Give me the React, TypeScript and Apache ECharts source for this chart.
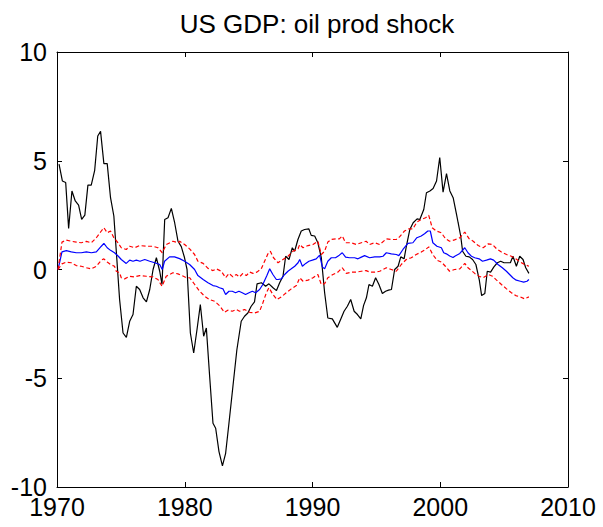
import React, { useEffect, useRef } from "react";
import * as echarts from "echarts";

// Black line (historical decomposition): years and values
const blackYears = [
  1970.16, 1970.42, 1970.68, 1970.91, 1971.17, 1971.43, 1971.69, 1971.93, 1972.18, 1972.42,
  1972.68, 1972.95, 1973.19, 1973.41, 1973.67, 1973.93, 1974.19, 1974.45, 1974.64, 1974.9,
  1975.17, 1975.43, 1975.69, 1975.95, 1976.21, 1976.47, 1976.74, 1977.0, 1977.26, 1977.52,
  1977.78, 1978.04, 1978.22, 1978.43, 1978.69, 1978.95, 1979.21, 1979.47, 1979.73, 1979.98,
  1980.18, 1980.44, 1980.7, 1980.96, 1981.22, 1981.48, 1981.69, 1981.95, 1982.21, 1982.42,
  1982.68, 1982.95, 1983.2, 1983.46, 1983.77, 1984.08, 1984.42, 1984.68, 1984.94, 1985.2,
  1985.46, 1985.66, 1986.0, 1986.17, 1986.33, 1986.59, 1986.91, 1987.18, 1987.43, 1987.69,
  1987.9, 1988.16, 1988.42, 1988.6, 1988.86, 1989.12, 1989.38, 1989.71, 1989.9, 1990.17,
  1990.42, 1990.69, 1990.95, 1991.2, 1991.55, 1991.94, 1992.2, 1992.47, 1992.73, 1992.99,
  1993.26, 1993.52, 1993.78, 1994.0, 1994.22, 1994.42, 1994.69, 1994.94, 1995.2, 1995.47,
  1995.72, 1995.95, 1996.18, 1996.43, 1996.7, 1996.91, 1997.17, 1997.35, 1997.62, 1997.88,
  1998.19, 1998.4, 1998.71, 1998.92, 1999.19, 1999.44, 1999.71, 1999.96, 2000.22, 2000.49,
  2000.75, 2001.01, 2001.27, 2001.4, 2001.6, 2001.75, 2002.01, 2002.27, 2002.53, 2002.79,
  2003.05, 2003.24, 2003.49, 2003.68, 2003.94, 2004.2, 2004.47, 2004.73, 2004.99, 2005.24,
  2005.49, 2005.69, 2005.96, 2006.22, 2006.48, 2006.69, 2006.94,
];
const blackValues = [
  4.84, 4.07, 4.0, 1.89, 3.61, 3.15, 2.96, 2.3, 2.5, 3.88,
  3.88, 4.56, 6.14, 6.35, 4.87, 4.87, 3.3, 2.46, 0.85, -1.38,
  -2.92, -3.12, -2.38, -2.07, -0.77, -0.92, -1.3, -1.49, -0.92, 0.0,
  0.54, -0.08, -0.69, 2.3, 2.38, 2.81, 2.15, 1.3, 1.05, 0.55,
  0.0, -2.92, -3.84, -2.76, -1.61, -3.07, -2.69, -4.92, -7.07, -7.3,
  -8.37, -9.03, -8.45, -7.07, -5.38, -3.69, -2.38, -2.15, -2.0, -1.69,
  -1.49, -0.66, -0.61, -0.69, -0.77, -0.66, -0.84, -0.97, -0.61, -0.31,
  0.61, 0.46, 1.0, 0.84, 1.38, 1.77, 1.84, 1.87, 1.57, 1.54,
  1.23, 0.54, -1.07, -2.23, -2.27, -2.66, -2.3, -1.92, -1.69, -1.38,
  -1.92, -2.07, -2.27, -1.65, -1.3, -0.69, -0.77, -0.38, -0.69, -1.1,
  -1.0, -0.95, -0.92, 0.0, 0.15, 0.58, 0.49, 1.07, 1.84, 2.15,
  2.33, 2.3, 2.76, 3.53, 3.61, 3.72, 4.07, 5.15, 3.56, 4.41,
  3.61, 3.3, 2.55, 2.15, 1.54, 0.84, 0.61, 0.58, 0.46, 0.23,
  -0.46, -1.2, -1.1, -0.08, -0.12, 0.12, 0.31, 0.38, 0.31, 0.31,
  0.31, 0.61, 0.15, 0.61, 0.46, 0.08, -0.18,
];

// Blue line (median)
const blueYears = [
  1970.08, 1970.39, 1970.73, 1971.12, 1971.51, 1971.9, 1972.3, 1972.69, 1973.08, 1973.47,
  1973.67, 1973.93, 1974.19, 1974.5, 1974.8, 1975.03, 1975.42, 1975.69, 1975.95, 1976.21,
  1976.5, 1976.87, 1977.26, 1977.65, 1978.04, 1978.24, 1978.42, 1978.81, 1979.2, 1979.6,
  1979.99, 1980.38, 1980.77, 1981.03, 1981.44, 1981.82, 1982.21, 1982.47, 1982.72, 1982.99,
  1983.2, 1983.46, 1983.72, 1983.98, 1984.24, 1984.5, 1984.76, 1985.03, 1985.29, 1985.55,
  1985.86, 1986.11, 1986.43, 1986.65, 1986.9, 1987.17, 1987.3, 1987.56, 1987.82, 1988.08,
  1988.34, 1988.61, 1988.87, 1989.0, 1989.21, 1989.47, 1989.72, 1989.99, 1990.29, 1990.56,
  1990.77, 1990.95, 1991.2, 1991.47, 1991.8, 1992.1, 1992.33, 1992.59, 1992.9, 1993.3,
  1993.56, 1993.82, 1994.08, 1994.47, 1994.87, 1995.26, 1995.52, 1995.78, 1996.17, 1996.56,
  1996.76, 1997.08, 1997.47, 1997.86, 1998.17, 1998.51, 1998.77, 1999.03, 1999.22, 1999.42,
  1999.74, 2000.09, 2000.27, 2000.48, 2000.74, 2001.0, 2001.14, 2001.53, 2001.92, 2002.17,
  2002.44, 2002.7, 2003.04, 2003.31, 2003.62, 2003.93, 2004.18, 2004.52, 2004.86, 2005.18,
  2005.43, 2005.68, 2005.95, 2006.27, 2006.53, 2006.79, 2006.94,
];
const blueValues = [
  0.0, 0.81, 0.87, 0.81, 0.77, 0.77, 0.81, 0.77, 0.81, 1.07,
  1.2, 1.0, 0.88, 0.77, 0.61, 0.46, 0.28, 0.43, 0.38, 0.43,
  0.38, 0.46, 0.38, 0.31, 0.23, 0.0, 0.38, 0.58, 0.58, 0.5,
  0.38, 0.23, 0.0, -0.28, -0.46, -0.61, -0.74, -0.77, -0.84, -0.89,
  -1.15, -1.0, -1.0, -1.07, -1.0, -1.07, -1.15, -1.07, -1.0, -1.07,
  -0.92, -0.69, -0.28, 0.03, -0.23, -0.46, -0.46, -0.43, -0.23, -0.08,
  0.03, 0.15, 0.31, 0.46, 0.15, 0.28, 0.38, 0.43, 0.49, 0.66,
  0.12, 0.03, 0.38, 0.54, 0.54, 0.66, 0.77, 0.57, 0.54, 0.54,
  0.49, 0.57, 0.64, 0.54, 0.58, 0.58, 0.61, 0.77, 0.72, 0.69,
  0.64, 0.92, 1.2, 1.23, 1.46, 1.54, 1.64, 1.77, 1.77, 1.23,
  1.07, 1.0, 0.77, 0.72, 0.62, 0.55, 0.61, 0.74, 1.0, 0.77,
  0.61, 0.54, 0.49, 0.38, 0.43, 0.49, 0.43, 0.23, 0.08, -0.08,
  -0.23, -0.38, -0.49, -0.54, -0.58, -0.54, -0.46,
];

// Upper red dashed band
const upperYears = [
  1970.08, 1970.39, 1970.73, 1971.12, 1971.51, 1971.9, 1972.3, 1972.69, 1973.08, 1973.47,
  1973.67, 1973.93, 1974.19, 1974.45, 1974.77, 1975.03, 1975.42, 1975.69, 1976.08, 1976.47,
  1976.99, 1977.51, 1977.9, 1978.24, 1978.55, 1979.07, 1979.47, 1979.6, 1979.99, 1980.38,
  1980.77, 1981.03, 1981.44, 1981.82, 1982.21, 1982.47, 1982.86, 1983.2, 1983.46, 1983.77,
  1984.03, 1984.29, 1984.55, 1984.82, 1985.08, 1985.34, 1985.65, 1985.99, 1986.25, 1986.51,
  1986.7, 1986.95, 1987.3, 1987.69, 1988.08, 1988.47, 1988.87, 1989.0, 1989.26, 1989.65,
  1990.04, 1990.42, 1990.69, 1990.95, 1991.2, 1991.47, 1991.86, 1992.1, 1992.33, 1992.59,
  1993.04, 1993.42, 1993.82, 1994.2, 1994.47, 1994.87, 1995.26, 1995.78, 1996.17, 1996.56,
  1996.81, 1997.2, 1997.55, 1997.86, 1998.17, 1998.51, 1998.85, 1999.1, 1999.37, 1999.69,
  2000.08, 2000.42, 2000.73, 2001.12, 2001.53, 2001.92, 2002.27, 2002.58, 2002.97, 2003.36,
  2003.76, 2004.09, 2004.41, 2004.79, 2005.19, 2005.57, 2005.91, 2006.27, 2006.61, 2006.94,
];
const upperValues = [
  0.0, 1.26, 1.35, 1.3, 1.26, 1.23, 1.29, 1.23, 1.46, 1.77,
  1.92, 1.69, 1.77, 1.46, 1.23, 1.0, 0.92, 1.07, 1.0, 1.1,
  1.07, 1.07, 1.0, 0.77, 1.15, 1.3, 1.23, 1.3, 1.15, 0.95,
  0.69, 0.38, 0.28, 0.05, -0.05, 0.03, -0.08, -0.38, -0.18, -0.34,
  -0.23, -0.34, -0.18, -0.28, -0.12, -0.18, -0.12, 0.03, 0.38, 0.72,
  0.84, 0.54, 0.31, 0.46, 0.61, 0.84, 0.95, 1.15, 1.0, 1.1,
  1.15, 1.3, 0.69, 0.84, 1.26, 1.38, 1.41, 1.41, 1.54, 1.23,
  1.23, 1.15, 1.23, 1.3, 1.15, 1.23, 1.15, 1.41, 1.38, 1.38,
  1.5, 1.77, 1.87, 1.87, 2.18, 2.3, 2.38, 2.49, 1.92, 1.77,
  1.69, 1.41, 1.3, 1.36, 1.46, 1.72, 1.41, 1.3, 1.1, 1.0,
  1.18, 1.15, 0.95, 0.8, 0.69, 0.61, 0.49, 0.34, 0.23, 0.15,
];

// Lower red dashed band
const lowerYears = [
  1970.08, 1970.39, 1970.73, 1971.12, 1971.51, 1971.9, 1972.3, 1972.69, 1973.08, 1973.47,
  1973.67, 1973.93, 1974.19, 1974.5, 1974.64, 1974.9, 1975.03, 1975.29, 1975.69, 1976.08,
  1976.47, 1976.99, 1977.51, 1977.9, 1978.22, 1978.55, 1979.07, 1979.47, 1979.86, 1980.13,
  1980.39, 1980.78, 1981.17, 1981.56, 1981.94, 1982.34, 1982.72, 1983.11, 1983.37, 1983.72,
  1984.03, 1984.29, 1984.68, 1985.08, 1985.47, 1985.86, 1986.11, 1986.39, 1986.59, 1986.9,
  1987.22, 1987.55, 1987.95, 1988.34, 1988.74, 1989.0, 1989.26, 1989.65, 1990.04, 1990.42,
  1990.69, 1990.95, 1991.2, 1991.6, 1991.99, 1992.33, 1992.65, 1993.04, 1993.42, 1993.82,
  1994.2, 1994.48, 1994.87, 1995.26, 1995.78, 1996.17, 1996.56, 1996.95, 1997.34, 1997.73,
  1998.12, 1998.51, 1998.85, 1999.1, 1999.41, 1999.74, 2000.09, 2000.4, 2000.73, 2001.12,
  2001.53, 2001.92, 2002.17, 2002.44, 2002.7, 2003.04, 2003.36, 2003.76, 2004.09, 2004.41,
  2004.79, 2005.19, 2005.57, 2005.91, 2006.27, 2006.61, 2006.94,
];
const lowerValues = [
  0.0, 0.26, 0.34, 0.31, 0.18, 0.15, 0.08, 0.03, 0.15, 0.43,
  0.49, 0.34, 0.23, 0.15, -0.08, -0.15, -0.38, -0.43, -0.31, -0.34,
  -0.28, -0.31, -0.34, -0.46, -0.77, -0.31, -0.15, -0.2, -0.3, -0.38,
  -0.38, -0.69, -1.0, -1.23, -1.38, -1.46, -1.66, -1.97, -1.87, -1.92,
  -1.84, -1.92, -1.84, -1.97, -2.0, -1.92, -1.54, -1.07, -0.84, -1.15,
  -1.38, -1.26, -1.07, -0.89, -0.74, -0.38, -0.54, -0.49, -0.38, -0.23,
  -0.69, -0.65, -0.38, -0.23, -0.12, 0.08, -0.18, -0.12, -0.12, -0.08,
  -0.05, -0.12, -0.12, -0.08, 0.08, 0.0, -0.08, 0.23, 0.46, 0.54,
  0.69, 0.8, 0.92, 1.04, 0.69, 0.43, 0.34, 0.15, -0.08, 0.0,
  0.03, 0.28, 0.08, -0.05, -0.18, -0.31, -0.38, -0.23, -0.31, -0.49,
  -0.69, -0.89, -1.07, -1.2, -1.26, -1.35, -1.26,
];

const xTicks = [1970, 1980, 1990, 2000, 2010];
const yTicks = [-10, -5, 0, 5, 10];
const titleText = "US GDP: oil prod shock";

const FONT = "'Liberation Sans', Arial, Helvetica, sans-serif";

function pairs(xs: number[], ys: number[]) {
  return xs.map((x, i) => [x, ys[i]]);
}

export default function App() {
  const ref = useRef<HTMLDivElement>(null);
  useEffect(() => {
    if (!ref.current) return;
    const chart = echarts.init(ref.current, undefined, { renderer: "svg" });
    const axisCommon = {
      type: "value" as const,
      axisLine: { show: true, onZero: false, lineStyle: { color: "#000", width: 1 } },
      axisTick: { show: true, inside: true, length: 5, lineStyle: { color: "#000", width: 1 } },
      splitLine: { show: false },
    };
    const fmt = (v: number) => String(v);
    chart.setOption({
      animation: false,
      backgroundColor: "#fff",
      title: {
        text: titleText,
        left: 312,
        textAlign: "center",
        top: 6,
        textStyle: { fontFamily: FONT, fontSize: 26, fontWeight: "normal", color: "#000" },
      },
      grid: { left: 57, right: 35, top: 52, bottom: 40, containLabel: false },
      xAxis: [
        {
          ...axisCommon,
          position: "bottom",
          min: xTicks[0],
          max: xTicks[xTicks.length - 1],
          interval: 10,
          axisLabel: { show: true, margin: 7, color: "#000", fontFamily: FONT, fontSize: 25, formatter: fmt },
        },
        {
          ...axisCommon,
          position: "top",
          min: xTicks[0],
          max: xTicks[xTicks.length - 1],
          interval: 10,
          axisLabel: { show: false },
        },
      ],
      yAxis: [
        {
          ...axisCommon,
          position: "left",
          min: yTicks[0],
          max: yTicks[yTicks.length - 1],
          interval: 5,
          axisLabel: { show: true, margin: 10, color: "#000", fontFamily: FONT, fontSize: 25, formatter: fmt },
        },
        {
          ...axisCommon,
          position: "right",
          min: yTicks[0],
          max: yTicks[yTicks.length - 1],
          interval: 5,
          axisLabel: { show: false },
        },
      ],
      series: [
        {
          type: "line",
          data: pairs(blackYears, blackValues),
          showSymbol: false,
          lineStyle: { color: "#000", width: 1.2 },
          z: 2,
        },
        {
          type: "line",
          data: pairs(blueYears, blueValues),
          showSymbol: false,
          lineStyle: { color: "#0000ff", width: 1.2 },
          z: 3,
        },
        {
          type: "line",
          data: pairs(upperYears, upperValues),
          showSymbol: false,
          lineStyle: { color: "#ff0000", width: 1.2, type: [4, 2.5] },
          z: 4,
        },
        {
          type: "line",
          data: pairs(lowerYears, lowerValues),
          showSymbol: false,
          lineStyle: { color: "#ff0000", width: 1.2, type: [4, 2.5] },
          z: 4,
        },
      ],
    });
    return () => chart.dispose();
  }, []);
  return (
    <div
      ref={ref}
      style={{ position: "absolute", left: 0, top: 0, width: 603, height: 527, background: "#fff" }}
    />
  );
}
